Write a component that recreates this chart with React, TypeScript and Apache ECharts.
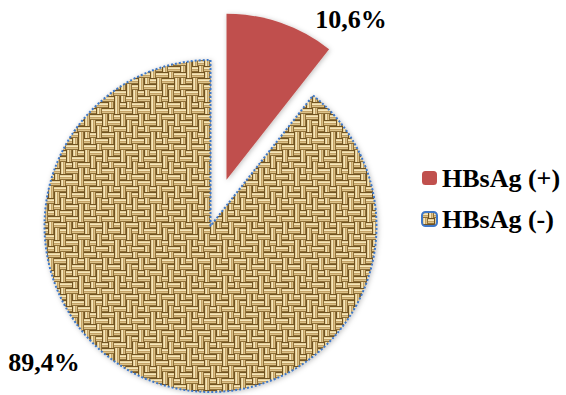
import React, { useEffect, useRef } from "react";
import * as echarts from "echarts";

const categories = ["HBsAg (+)", "HBsAg (-)"];
const values = [10.6, 89.4];
const labelTexts = values.map((v) => String(v).replace(".", ",") + "%");

// fixed weave layout (1 = horizontal strands, 0 = vertical strands)
const weave = [
  [1, 0, 1, 1, 0, 1],
  [0, 1, 0, 1, 1, 0],
  [1, 1, 0, 0, 1, 0],
  [0, 1, 1, 0, 0, 1],
  [1, 0, 0, 1, 0, 1],
  [0, 0, 1, 0, 1, 1],
];

function makeBurlap(): string {
  const b = 6;
  const n = weave.length;
  const size = b * n;
  const c = document.createElement("canvas");
  c.width = size;
  c.height = size;
  const ctx = c.getContext("2d")!;
  ctx.fillStyle = "#b8975c";
  ctx.fillRect(0, 0, size, size);
  const strand = ["#6f5224", "#e6d09a", "#f5e7bc", "#c4a266", "#dcc289", "#8f7037"];
  for (let by = 0; by < n; by++) {
    for (let bx = 0; bx < n; bx++) {
      const horiz = weave[by][bx] === 1;
      for (let i = 0; i < b; i++) {
        ctx.fillStyle = strand[i];
        if (horiz) ctx.fillRect(bx * b, by * b + i, b, 1);
        else ctx.fillRect(bx * b + i, by * b, 1, b);
      }
    }
  }
  return c.toDataURL();
}

export default function App() {
  const ref = useRef<HTMLDivElement>(null);
  useEffect(() => {
    if (!ref.current) return;
    const chart = echarts.init(ref.current, null, { renderer: "svg" });
    const burlap = makeBurlap();
    const font = "'Liberation Serif', 'Times New Roman', serif";
    const labelStyle = {
      fontFamily: font,
      fontSize: 26,
      fontWeight: "bold",
      fill: "#000",
      textAlign: "center",
      textVerticalAlign: "middle",
    };
    chart.setOption({
      animation: false,
      backgroundColor: "#ffffff",
      legend: {
        orient: "vertical",
        left: 416,
        top: 160,
        itemWidth: 15,
        itemHeight: 14,
        itemGap: 15,
        selectedMode: false,
        data: categories,
        textStyle: {
          fontFamily: font,
          fontSize: 26,
          fontWeight: "bold",
          color: "#000",
          lineHeight: 26,
        },
      },
      graphic: [
        { type: "text", x: 351, y: 19, style: { ...labelStyle, text: labelTexts[0] } },
        { type: "text", x: 44, y: 362, style: { ...labelStyle, text: labelTexts[1] } },
      ],
      series: [
        {
          type: "pie",
          center: [210.5, 226],
          radius: 166,
          startAngle: 90,
          clockwise: true,
          selectedMode: "single",
          selectedOffset: 49,
          emphasis: { disabled: true },
          label: { show: false },
          labelLine: { show: false },
          data: [
            {
              name: categories[0],
              value: values[0],
              selected: true,
              itemStyle: {
                color: "#c0504d",
                borderWidth: 0,
                shadowBlur: 5,
                shadowColor: "rgba(0,0,0,0.25)",
                shadowOffsetX: 1,
                shadowOffsetY: 1,
              },
            },
            {
              name: categories[1],
              value: values[1],
              itemStyle: {
                color: { image: burlap, repeat: "repeat" },
                borderColor: "#3f78c8",
                borderWidth: 2,
                borderType: [2, 2],
                shadowBlur: 5,
                shadowColor: "rgba(0,0,0,0.25)",
                shadowOffsetX: 1,
                shadowOffsetY: 1,
              },
            },
          ],
        },
      ],
    });
    return () => chart.dispose();
  }, []);
  return (
    <div
      ref={ref}
      style={{ position: "fixed", left: 0, top: 0, width: 566, height: 395 }}
    />
  );
}
